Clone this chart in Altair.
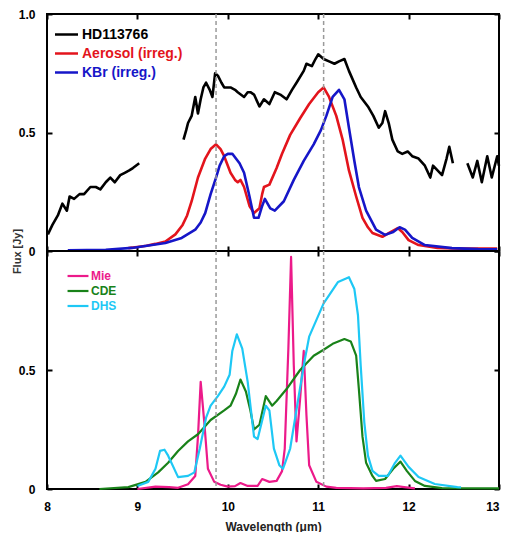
import altair as alt
import pandas as pd

FONT = "Liberation Sans"

# ---------------- top panel data ----------------
hd_seg1_wl = [8.01, 8.06, 8.12, 8.17, 8.22, 8.25, 8.30, 8.36, 8.41, 8.48, 8.54, 8.59, 8.65, 8.70, 8.75, 8.81, 8.86, 8.91, 8.95, 9.02]
hd_seg1_fx = [0.07, 0.11, 0.15, 0.20, 0.17, 0.23, 0.22, 0.24, 0.24, 0.27, 0.27, 0.26, 0.29, 0.31, 0.29, 0.32, 0.33, 0.34, 0.35, 0.37]
hd_seg2_wl = [9.51, 9.54, 9.56, 9.60, 9.64, 9.67, 9.70, 9.73, 9.76, 9.80, 9.83, 9.86, 9.89, 9.93, 9.96, 10.03, 10.08, 10.11, 10.18,
              10.22, 10.25, 10.29, 10.35, 10.40, 10.46, 10.52, 10.58, 10.65, 10.71, 10.76, 10.84, 10.87, 10.93, 10.97, 11.00,
              11.06, 11.12, 11.18, 11.23, 11.29, 11.34, 11.42, 11.47, 11.55, 11.61, 11.67, 11.71, 11.74, 11.78, 11.82, 11.88,
              11.93, 11.99, 12.04, 12.11, 12.18, 12.24, 12.27, 12.32, 12.37, 12.42, 12.45, 12.49]
hd_seg2_fx = [0.47, 0.51, 0.54, 0.57, 0.65, 0.58, 0.64, 0.69, 0.71, 0.68, 0.65, 0.75, 0.74, 0.71, 0.69, 0.69, 0.68, 0.67, 0.65,
              0.67, 0.67, 0.66, 0.61, 0.64, 0.62, 0.67, 0.66, 0.64, 0.68, 0.71, 0.76, 0.79, 0.78, 0.81, 0.83,
              0.81, 0.80, 0.79, 0.80, 0.81, 0.76, 0.69, 0.65, 0.61, 0.57, 0.52, 0.54, 0.59, 0.54, 0.47, 0.42,
              0.41, 0.42, 0.40, 0.39, 0.36, 0.31, 0.36, 0.34, 0.32, 0.39, 0.44, 0.37]
hd_seg3_wl = [12.65, 12.71, 12.76, 12.81, 12.87, 12.92, 12.98, 13.0]
hd_seg3_fx = [0.37, 0.31, 0.38, 0.29, 0.40, 0.31, 0.40, 0.36]

aero_wl = [8.9, 9.0, 9.1, 9.2, 9.31, 9.42, 9.50, 9.55, 9.60, 9.67, 9.75, 9.81, 9.87, 9.92, 9.96, 10.03, 10.08, 10.11, 10.14,
           10.18, 10.24, 10.29, 10.35, 10.38, 10.40, 10.46, 10.54, 10.60, 10.69, 10.80, 10.90, 11.00, 11.06, 11.12, 11.20,
           11.27, 11.34, 11.42, 11.49, 11.55, 11.60, 11.71, 11.78, 11.88, 11.93, 12.0, 12.11, 12.32, 12.58, 12.98]
aero_fx = [0.012, 0.017, 0.022, 0.03, 0.04, 0.07, 0.11, 0.15, 0.21, 0.31, 0.39, 0.43, 0.45, 0.43, 0.40, 0.33, 0.30, 0.29, 0.30,
           0.27, 0.19, 0.16, 0.18, 0.24, 0.27, 0.28, 0.35, 0.41, 0.49, 0.56, 0.62, 0.67, 0.69, 0.65, 0.57,
           0.47, 0.34, 0.23, 0.14, 0.10, 0.076, 0.06, 0.075, 0.097, 0.08, 0.046, 0.025, 0.013, 0.01, 0.01]

kbr_wl = [8.23, 8.65, 8.94, 9.31, 9.49, 9.64, 9.70, 9.75, 9.81, 9.87, 9.91, 9.96, 10.0, 10.05, 10.13, 10.18, 10.24, 10.29,
          10.34, 10.38, 10.41, 10.47, 10.52, 10.62, 10.73, 10.84, 10.95, 11.03, 11.09, 11.16, 11.23, 11.29, 11.34, 11.40,
          11.45, 11.53, 11.64, 11.74, 11.83, 11.90, 11.96, 12.04, 12.18, 12.48, 12.77, 12.98]
kbr_fx = [0.003, 0.005, 0.013, 0.034, 0.055, 0.09, 0.12, 0.16, 0.24, 0.31, 0.36, 0.40, 0.41, 0.41, 0.37, 0.33, 0.23, 0.14,
          0.14, 0.19, 0.22, 0.18, 0.17, 0.21, 0.30, 0.38, 0.45, 0.51, 0.57, 0.65, 0.68, 0.64, 0.52, 0.38,
          0.27, 0.17, 0.09, 0.068, 0.08, 0.10, 0.09, 0.055, 0.025, 0.012, 0.008, 0.007]

# ---------------- bottom panel data ----------------
mie_wl = [9.0, 9.2, 9.35, 9.45, 9.56, 9.64, 9.67, 9.70, 9.74, 9.78, 9.85, 9.92, 10.0, 10.08, 10.14, 10.22, 10.33, 10.38,
          10.46, 10.54, 10.60, 10.63, 10.67, 10.70, 10.73, 10.76, 10.80, 10.84, 10.87, 10.90, 10.98, 11.09, 11.2, 11.5,
          11.75, 11.87, 11.95, 12.07]
mie_fx = [0.0, 0.01, 0.008, 0.005, 0.02, 0.055, 0.22, 0.45, 0.28, 0.085, 0.03, 0.018, 0.01, 0.012, 0.025, 0.013, 0.013, 0.042,
          0.03, 0.034, 0.075, 0.17, 0.59, 0.975, 0.52, 0.20, 0.38, 0.58, 0.31, 0.10, 0.03, 0.01, 0.005, 0.003,
          0.005, 0.012, 0.008, 0.003]

cde_wl = [8.58, 8.9, 9.09, 9.23, 9.34, 9.45, 9.56, 9.67, 9.81, 9.96, 10.03, 10.09, 10.14, 10.20, 10.25, 10.29, 10.35, 10.42,
          10.49, 10.54, 10.65, 10.80, 10.95, 11.06, 11.16, 11.29, 11.36, 11.42, 11.45, 11.49, 11.53, 11.60, 11.64, 11.74,
          11.83, 11.91, 11.98, 12.07, 12.18, 12.37, 13.0]
cde_fx = [0.0, 0.008, 0.03, 0.07, 0.11, 0.16, 0.20, 0.23, 0.29, 0.33, 0.35, 0.40, 0.46, 0.41, 0.33, 0.25, 0.27, 0.39,
          0.35, 0.37, 0.42, 0.50, 0.56, 0.585, 0.61, 0.63, 0.62, 0.56, 0.42, 0.22, 0.11, 0.055, 0.034, 0.042,
          0.085, 0.115, 0.076, 0.034, 0.013, 0.004, 0.003]

dhs_wl = [9.0, 9.12, 9.20, 9.25, 9.30, 9.34, 9.45, 9.56, 9.63, 9.69, 9.76, 9.81, 9.89, 9.96, 10.02, 10.05, 10.10, 10.16,
          10.22, 10.29, 10.33, 10.42, 10.46, 10.51, 10.57, 10.61, 10.69, 10.78, 10.85, 10.90, 11.06, 11.22, 11.34, 11.40,
          11.44, 11.47, 11.51, 11.55, 11.60, 11.67, 11.77, 11.85, 11.91, 12.0, 12.11, 12.29, 12.54, 12.58]
dhs_fx = [0.013, 0.03, 0.085, 0.16, 0.165, 0.14, 0.05, 0.055, 0.07, 0.17, 0.30, 0.35, 0.39, 0.43, 0.48, 0.58, 0.65, 0.59,
          0.45, 0.22, 0.21, 0.35, 0.33, 0.17, 0.10, 0.085, 0.17, 0.38, 0.54, 0.64, 0.78, 0.87, 0.89, 0.84,
          0.73, 0.52, 0.28, 0.14, 0.076, 0.055, 0.055, 0.11, 0.14, 0.093, 0.05, 0.021, 0.008, 0.007]

top_names = ["HD113766", "Aerosol (irreg.)", "KBr (irreg.)"]
top_colors = ["#000000", "#e3141c", "#1616c8"]
bot_names = ["Mie", "CDE", "DHS"]
bot_colors = ["#ec1a8a", "#198219", "#1ec8f5"]

marker_wl = [9.87, 11.06]
x_ticks = [8, 9, 10, 11, 12, 13]
y_ticks = [0, 0.5, 1.0]


def frame(name, wl, fx, seg):
    return pd.DataFrame({"wl": wl, "flux": fx, "series": name, "seg": seg})


top_df = pd.concat([
    frame(top_names[0], hd_seg1_wl, hd_seg1_fx, "a"),
    frame(top_names[0], hd_seg2_wl, hd_seg2_fx, "b"),
    frame(top_names[0], hd_seg3_wl, hd_seg3_fx, "c"),
    frame(top_names[1], aero_wl, aero_fx, "a"),
    frame(top_names[2], kbr_wl, kbr_fx, "a"),
], ignore_index=True)

bot_df = pd.concat([
    frame(bot_names[0], mie_wl, mie_fx, "a"),
    frame(bot_names[1], cde_wl, cde_fx, "a"),
    frame(bot_names[2], dhs_wl, dhs_fx, "a"),
], ignore_index=True)

marker_df = pd.DataFrame({"wl": marker_wl})

W = 452
H_TOP, H_BOT = 237, 238
TS = 5

xscale = alt.Scale(domain=[8, 13], nice=False, zero=False)
yscale = alt.Scale(domain=[0, 1], nice=False)


def ax(**kw):
    base = dict(domain=False, grid=False, ticks=True, tickSize=TS, tickWidth=2, tickColor="black",
                offset=-TS, labelFont=FONT, labelFontWeight="bold", labelFontSize=12, labelColor="black",
                titleFont=FONT, titleFontWeight="bold", titleColor="#333333")
    base.update(kw)
    return alt.Axis(**base)


def legend(x, y, size, path, fsize, sw, colors_expr):
    return alt.Legend(orient="none", legendX=x, legendY=y, title=None, symbolType=path, symbolSize=size,
                      symbolStrokeWidth=sw, labelFont=FONT, labelFontWeight="bold", labelFontSize=fsize,
                      labelOffset=4, rowPadding=0, labelColor=alt.ExprRef(expr=colors_expr))


def color_expr(names, colors):
    return ("datum.label === '%s' ? '%s' : datum.label === '%s' ? '%s' : '%s'"
            % (names[0], colors[0], names[1], colors[1], colors[2]))


label_expr = "datum.value == 0 ? '0' : format(datum.value, '.1f')"


def panel(df, names, colors, leg, bottom, h):
    lines = alt.Chart(df).mark_line(strokeWidth=2.6 if not bottom else 2.2, strokeJoin="round").encode(
        x=alt.X("wl:Q", scale=xscale,
                axis=ax(orient="bottom", values=x_ticks, labels=bottom, labelPadding=12,
                        labelAlign=alt.ExprRef(expr="datum.value == 13 ? 'right' : 'center'"),
                        title="Wavelength (μm)" if bottom else None, titleFontSize=12, titleColor="#222222",
                        titlePadding=9)),
        y=alt.Y("flux:Q", scale=yscale,
                axis=ax(orient="left", values=(y_ticks if not bottom else [0, 0.5]), labelExpr=label_expr,
                        labelPadding=12,
                        title=None if bottom else "Flux [Jy]",
                        **({} if bottom else dict(titleX=-35, titleY=h, titleFontSize=11,
                                                  titleBaseline="middle", titleAngle=270)))),
        color=alt.Color("series:N", scale=alt.Scale(domain=names, range=colors), legend=leg),
        detail="seg:N",
    )
    rules = alt.Chart(marker_df).mark_rule(color="#9a9a9a", strokeDash=[4, 3], strokeWidth=1.5).encode(
        x=alt.X("wl:Q", scale=xscale, axis=None)
    )
    mirror = alt.Chart(df).mark_point(opacity=0).encode(
        x=alt.X("wl:Q", scale=xscale, axis=ax(orient="top", values=x_ticks, labels=False, title=None)),
        y=alt.Y("flux:Q", scale=yscale, axis=ax(orient="right", values=y_ticks, labels=False, title=None)),
    )
    return alt.layer(lines, rules, mirror).resolve_axis(x="independent", y="independent").properties(
        width=W, height=h)


top = panel(top_df, top_names, top_colors,
            legend(8, 9, 400, "M-1.15,0H1.15", 14, 2.5, color_expr(top_names, top_colors)), False, H_TOP)
bottom = panel(bot_df, bot_names, bot_colors,
               legend(22, 16, 240, "M-1.35,0H1.35", 12, 2.2, color_expr(bot_names, bot_colors)), True, H_BOT)

chart = alt.vconcat(top, bottom, spacing=0, bounds="flush").resolve_scale(color="independent").configure_view(
    stroke="black", strokeWidth=2
).properties(
    autosize=alt.AutoSizeParams(type="none"),
    padding={"left": 39, "top": 6, "right": 2, "bottom": 518},
    background="white",
)

chart.save("out.html", embed_options={"renderer": "svg", "actions": False})
